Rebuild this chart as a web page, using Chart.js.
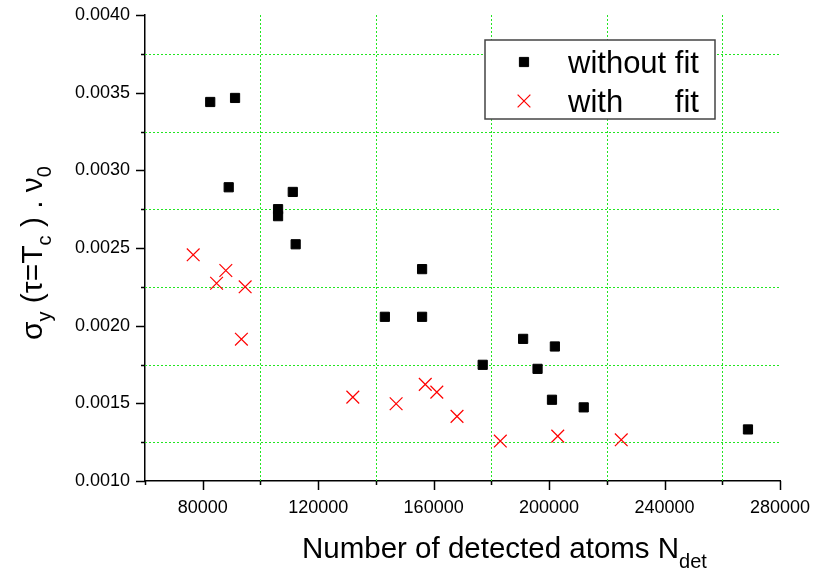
<!DOCTYPE html>
<html><head><meta charset="utf-8">
<script src="https://cdn.jsdelivr.net/npm/chart.js@4/dist/chart.umd.min.js"></script>
<style>html,body{margin:0;padding:0;background:#fff;} canvas{display:block;}</style>
</head><body>
<canvas id="c" width="814" height="575"></canvas>
<script>
// ---- data ----
const withoutFitN = [82600, 91200, 89000, 111200, 106100, 106100, 112200, 156000, 143100, 156000, 177000, 191000, 202000, 196000, 201000, 212000, 268900];
const withoutFitSigma = [0.003440, 0.003466, 0.002891, 0.002861, 0.002750, 0.002705, 0.002524, 0.002364, 0.002057, 0.002057, 0.001748, 0.001915, 0.001866, 0.001722, 0.001523, 0.001474, 0.001332];
const withFitN = [76700, 84800, 88000, 94700, 93400, 132000, 147000, 157100, 161100, 168100, 183100, 203000, 225000];
const withFitSigma = [0.002456, 0.002273, 0.002355, 0.002250, 0.001913, 0.001540, 0.001497, 0.001622, 0.001572, 0.001416, 0.001257, 0.001289, 0.001265];
const seriesLabels = ['without fit', 'with      fit'];
const xMajorTicks = [80000, 120000, 160000, 200000, 240000, 280000];
const xTickLabels = ['80000', '120000', '160000', '200000', '240000', '280000'];
const yMajorTicks = [0.0010, 0.0015, 0.0020, 0.0025, 0.0030, 0.0035, 0.0040];
const yTickLabels = ['0.0010', '0.0015', '0.0020', '0.0025', '0.0030', '0.0035', '0.0040'];
const xTitle = [{t: 'Number of detected atoms N'}, {t: 'det', sub: true}];
const yTitle = [{t: 'σ'}, {t: 'y', sub: true}, {t: ' (τ=T'}, {t: 'c', sub: true}, {t: ' ) . ν'}, {t: '0', sub: true}];

const FONT = '"Liberation Sans", Arial, sans-serif';
const GREEN = '#22e622';
Chart.defaults.font.family = FONT;
Chart.defaults.color = '#000';

const xIdx = v => xMajorTicks.findIndex(m => Math.abs(m - v) < 1);
const yIdx = v => yMajorTicks.findIndex(m => Math.abs(m - v) < 1e-8);

function drawRich(ctx, segs, x, y, size, subSize, subDrop) {
  let cx = x;
  segs.forEach(s => {
    ctx.font = (s.sub ? subSize : size) + 'px ' + FONT;
    ctx.fillText(s.t, cx, s.sub ? y + subDrop : y);
    cx += ctx.measureText(s.t).width;
  });
}
function richWidth(ctx, segs, size, subSize) {
  let w = 0;
  segs.forEach(s => { ctx.font = (s.sub ? subSize : size) + 'px ' + FONT; w += ctx.measureText(s.t).width; });
  return w;
}

const decor = {
  id: 'decor',
  beforeDraw(chart) {
    const ctx = chart.ctx;
    ctx.save(); ctx.fillStyle = '#fff'; ctx.fillRect(0, 0, chart.width, chart.height); ctx.restore();
  },
  beforeDatasetsDraw(chart) {
    const {ctx, chartArea: a, scales: {x, y}} = chart;
    ctx.save();
    ctx.strokeStyle = GREEN; ctx.lineWidth = 1; ctx.setLineDash([2, 2]);
    ctx.beginPath();
    x.ticks.forEach(t => {
      if (xIdx(t.value) >= 0 || t.value <= x.min) return;
      const px = Math.round(x.getPixelForValue(t.value)) + 0.5;
      ctx.moveTo(px, a.bottom); ctx.lineTo(px, a.top);
    });
    y.ticks.forEach(t => {
      if (yIdx(t.value) >= 0) return;
      const py = Math.round(y.getPixelForValue(t.value)) + 0.5;
      ctx.moveTo(a.left, py); ctx.lineTo(a.right, py);
    });
    ctx.stroke();
    ctx.restore();
  },
  afterDraw(chart) {
    const {ctx, scales: {x, y}} = chart;
    ctx.save();
    // tick marks
    ctx.strokeStyle = '#000'; ctx.lineWidth = 1.5;
    ctx.beginPath();
    x.ticks.forEach(t => {
      const px = Math.round(x.getPixelForValue(t.value)) + 0.5;
      const len = xIdx(t.value) >= 0 ? 9 : 4;
      ctx.moveTo(px, x.top); ctx.lineTo(px, x.top + len);
    });
    y.ticks.forEach(t => {
      const py = Math.round(y.getPixelForValue(t.value)) + 0.5;
      const len = yIdx(t.value) >= 0 ? 9 : 4;
      ctx.moveTo(y.right, py); ctx.lineTo(y.right - len, py);
    });
    ctx.stroke();
    // axis titles
    ctx.fillStyle = '#000'; ctx.textBaseline = 'alphabetic'; ctx.textAlign = 'left';
    drawRich(ctx, xTitle, 302, 558, 29.5, 20, 10);
    ctx.save();
    ctx.translate(42, 253); ctx.rotate(-Math.PI / 2);
    const w = richWidth(ctx, yTitle, 30, 20);
    drawRich(ctx, yTitle, -w / 2, 0, 30, 20, 9);
    ctx.restore();
    // legend
    const bx = 485, by = 40, bw = 230, bh = 79;
    ctx.fillStyle = '#fff'; ctx.fillRect(bx, by, bw, bh);
    ctx.strokeStyle = '#444'; ctx.lineWidth = 1.5; ctx.strokeRect(bx, by, bw, bh);
    const rows = [62, 101];
    chart.data.datasets.forEach((ds, i) => {
      ctx.fillStyle = ds.backgroundColor; ctx.strokeStyle = ds.borderColor; ctx.lineWidth = ds.borderWidth;
      Chart.helpers.drawPoint(ctx, {pointStyle: ds.pointStyle, radius: ds.pointRadius, rotation: 0, borderWidth: ds.borderWidth}, 524, rows[i]);
      ctx.fillStyle = '#000'; ctx.font = '31px ' + FONT; ctx.textBaseline = 'alphabetic';
      ctx.fillText(ds.label, 568, rows[i] + 10.5);
    });
    ctx.restore();
  }
};

new Chart(document.getElementById('c'), {
  type: 'scatter',
  data: {
    datasets: [
      {label: seriesLabels[0], data: withoutFitN.map((v, i) => ({x: v, y: withoutFitSigma[i]})),
       pointStyle: 'rect', pointRadius: 6.5, backgroundColor: '#000', borderColor: '#000', borderWidth: 1},
      {label: seriesLabels[1], data: withFitN.map((v, i) => ({x: v, y: withFitSigma[i]})),
       pointStyle: 'crossRot', pointRadius: 9, backgroundColor: '#ff0000', borderColor: '#ff0000', borderWidth: 1.2}
    ]
  },
  options: {
    responsive: false, animation: false,
    layout: {padding: {left: 0, right: 34, top: 15, bottom: 0}},
    plugins: {legend: {display: false}, tooltip: {enabled: false}},
    scales: {
      x: {
        type: 'linear', min: 60000, max: 280000,
        afterFit: s => { s.height = 94; s.paddingLeft = 0; s.paddingRight = 0; },
        ticks: {stepSize: 20000, autoSkip: false, maxRotation: 0, padding: 16, font: {size: 18},
                callback: v => { const i = xIdx(v); return i >= 0 ? xTickLabels[i] : ''; }},
        grid: {display: false, drawTicks: false},
        border: {display: true, color: '#000', width: 1.5}
      },
      y: {
        type: 'linear', min: 0.001, max: 0.004,
        afterFit: s => { s.width = 145; s.paddingTop = 0; s.paddingBottom = 0; },
        ticks: {stepSize: 0.00025, autoSkip: false, padding: 15, font: {size: 18},
                callback: v => { const i = yIdx(v); return i >= 0 ? yTickLabels[i] : ''; }},
        grid: {display: false, drawTicks: false},
        border: {display: true, color: '#000', width: 1.5}
      }
    }
  },
  plugins: [decor]
});
</script>
</body></html>
